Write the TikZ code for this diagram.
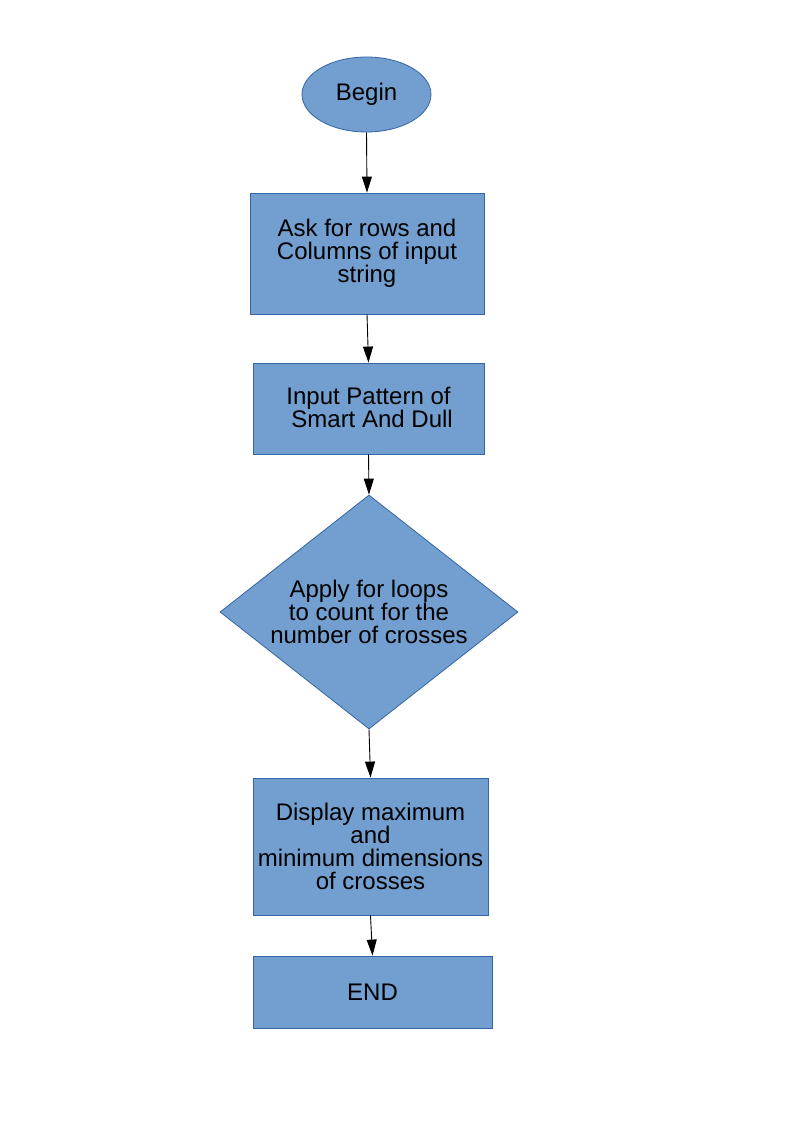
\documentclass[tikz,border=0pt]{standalone}
\usepackage{fontspec}
\setmainfont{Liberation Sans}
\usetikzlibrary{shapes.geometric,arrows.meta}
\definecolor{boxfill}{HTML}{729FCF}
\definecolor{boxline}{HTML}{3465A4}
\begin{document}
\begin{tikzpicture}[x=1pt,y=-1pt,
  every node/.style={font=\fontsize{24}{23}\selectfont, align=center, inner sep=0pt},
  shp/.style={draw=boxline, fill=boxfill, line width=0.8pt},
  procbox/.style={shp, rectangle},
  flowarrow/.style={draw=black, line width=0.9pt, -{Triangle[length=16pt,width=10pt]}}]
\useasboundingbox (0,0) rectangle (794,1123);
\fill[white] (0,0) rectangle (794,1123);
\node[shp, ellipse, minimum width=129pt, minimum height=75pt] (begin) at (366.5,94.5) {Begin};
\node[procbox, minimum width=234pt, minimum height=121pt] (ask) at (367,253.5) {Ask for rows and\\Columns of input\\string};
\node[procbox, minimum width=231pt, minimum height=91pt, text depth=2pt] (input) at (368.5,408.5) {Input Pattern of\\\hspace*{0.3em}Smart And Dull};
\node[shp, diamond, aspect=1.27, minimum width=298pt, minimum height=234pt] (loop) at (369,612) {Apply for loops\\to count for the\\number of crosses};
\node[procbox, minimum width=235pt, minimum height=137pt] (disp) at (370.5,846.5) {Display maximum\\and\\minimum dimensions\\of crosses};
\node[procbox, minimum width=239pt, minimum height=72pt] (end) at (372.5,992) {END};
\draw[flowarrow] (begin.south) -- (ask.north);
\draw[flowarrow] (ask.south) -- (input.north);
\draw[flowarrow] (input.south) -- (loop.north);
\draw[flowarrow] (loop.south) -- (disp.north);
\draw[flowarrow] (disp.south) -- (end.north);
\end{tikzpicture}
\end{document}
